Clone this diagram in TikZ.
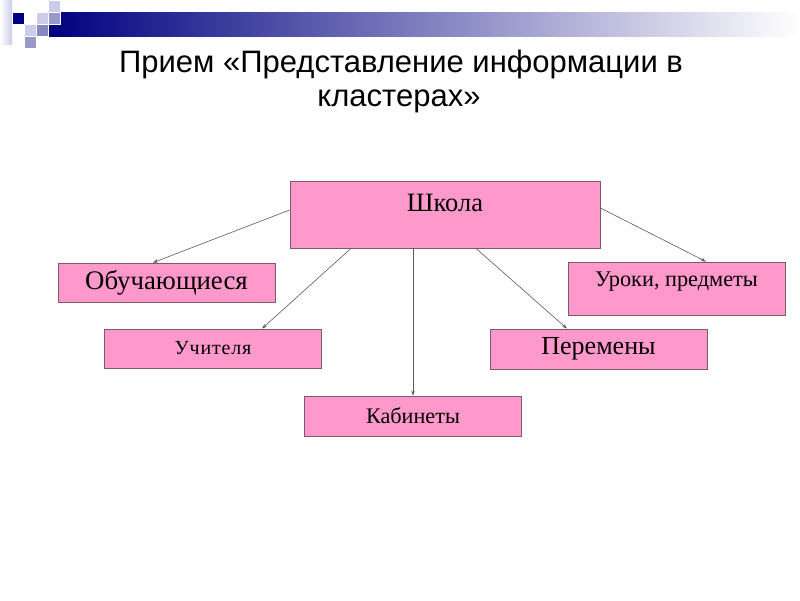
\documentclass[tikz,border=0pt]{standalone}
\usepackage{fontspec}
\setmainfont{Liberation Serif}
\newfontfamily\titlefont{Liberation Sans}
\newfontfamily\spacedfont[LetterSpace=4]{Liberation Serif}
\usetikzlibrary{arrows.meta}
\definecolor{boxfill}{HTML}{FF99CC}
\definecolor{boxline}{HTML}{7A5A6E}
\definecolor{navy}{HTML}{000080}
\definecolor{lav1}{HTML}{CCCCEA}
\definecolor{lav2}{HTML}{9999CC}
\definecolor{lav3}{HTML}{8888C0}
\begin{document}
\begin{tikzpicture}[x=1pt,y=-1pt,
  box/.style={draw=boxline, line width=0.8pt, fill=boxfill, minimum width=217pt, inner sep=0pt},
  conn/.style={draw=black!65, line width=0.6pt, -{Stealth[length=5pt,width=3.5pt]}},
  sq/.style={draw=white, line width=0.8pt}]
\useasboundingbox (0,0) rectangle (800,600);
\fill[white] (0,0) rectangle (800,600);
% header decoration
\shade[left color=navy, right color=white] (48,12) rectangle (800,36);
\shade[left color=white, right color=lav1] (0,0) rectangle (12,44);
\fill[sq, fill=navy] (12,12) rectangle (24,24);
\fill[sq, fill=white] (24,12) rectangle (36,24);
\fill[sq, fill=lav1] (48,0) rectangle (60,12);
\filldraw[sq, fill=lav1] (36,12) rectangle (48,24);
\filldraw[sq, fill=lav2] (48,12) rectangle (60,24);
\filldraw[sq, fill=lav1] (24,24) rectangle (36,36);
\filldraw[sq, fill=lav3] (36,24) rectangle (48,36);
\filldraw[sq, fill=lav2] (24,36) rectangle (36,48);
% title
\node[font=\titlefont\fontsize{31}{35}\selectfont, anchor=base, inner sep=0pt] (t1) at (401,72) {Прием «Представление информации в};
\node[font=\titlefont\fontsize{31}{35}\selectfont, anchor=base, inner sep=0pt] (t2) at (399,106) {кластерах»};
% boxes
\node[box, minimum width=310pt, text height=30pt, text depth=37pt, anchor=base, font=\fontsize{26.5}{30}\selectfont] (school) at (445,211) {Школа};
\node[box, minimum height=39pt, font=\fontsize{26.8}{30}\selectfont] (obu) at (166.5,282.5) {Обучающиеся};
\node[box, text height=24pt, text depth=29pt, anchor=base, font=\fontsize{22.3}{25}\selectfont] (uroki) at (676.5,286) {Уроки, предметы};
\node[box, minimum height=39pt, font=\spacedfont\fontsize{20}{22}\selectfont] (uch) at (213,348.5) {Учителя};
\node[box, minimum height=40pt, font=\fontsize{26}{30}\selectfont] (per) at (598.5,349) {Перемены};
\node[box, minimum height=40pt, font=\fontsize{22.2}{25}\selectfont] (kab) at (413,416) {Кабинеты};
% connectors
\draw[conn] ([yshift=4.5pt]school.west) -- ([xshift=-13.5pt]obu.north);
\draw[conn] ([xshift=-94pt]school.south) -- ([xshift=49pt]uch.north);
\draw[conn] ([xshift=-32pt]school.south) -- (kab.north);
\draw[conn] ([xshift=31pt]school.south) -- ([xshift=-31.5pt]per.north);
\draw[conn] ([yshift=6.5pt]school.east) -- ([xshift=29.5pt]uroki.north);
\end{tikzpicture}
\end{document}
